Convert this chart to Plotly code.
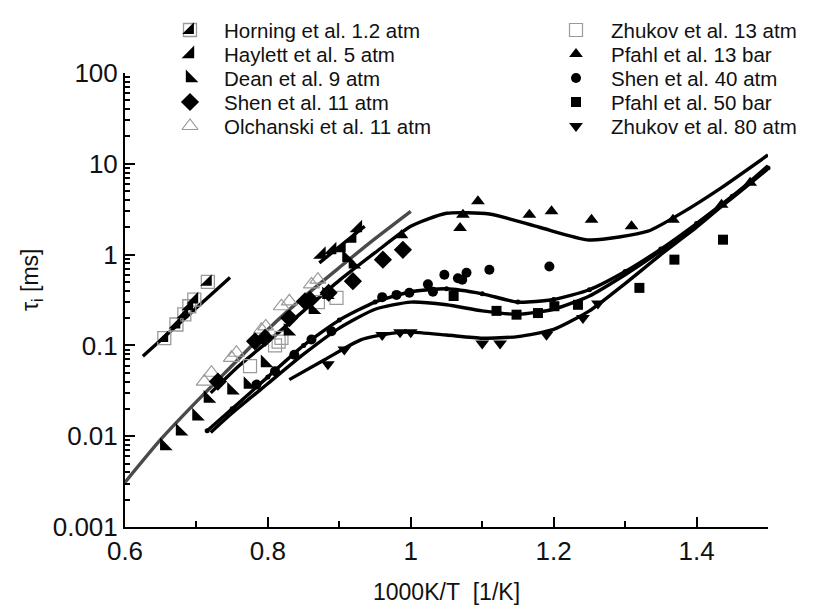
import plotly.graph_objects as go

W, H = 814, 606
PX0, PX1, PY0, PY1 = 117, 760, 65, 519   # plot area (pixels)

# ---------------- data ----------------
horning_x = [0.655, 0.672, 0.683, 0.690, 0.697, 0.716]
horning_y = [0.12, 0.17, 0.22, 0.27, 0.32, 0.50]

haylett_x = [0.875, 0.890, 0.903, 0.918, 0.926]
haylett_y = [1.0, 1.12, 1.18, 1.5, 1.96]

dean_x = [0.655, 0.677, 0.700, 0.716, 0.749, 0.772, 0.796, 0.828, 0.863, 0.882, 0.910, 0.919]
dean_y = [0.0078, 0.0113, 0.0166, 0.026, 0.032, 0.037, 0.064, 0.143, 0.247, 0.36, 0.92, 0.78]

shen11_x = [0.730, 0.782, 0.796, 0.830, 0.852, 0.859, 0.885, 0.919, 0.961, 0.989]
shen11_y = [0.040, 0.111, 0.121, 0.20, 0.306, 0.318, 0.38, 0.51, 0.88, 1.13]

olch_x = [0.711, 0.721, 0.749, 0.756, 0.791, 0.797, 0.819, 0.830, 0.861, 0.870]
olch_y = [0.040, 0.050, 0.073, 0.083, 0.149, 0.162, 0.27, 0.306, 0.47, 0.53]

zh13_x = [0.775, 0.810, 0.819, 0.815, 0.870, 0.896]
zh13_y = [0.059, 0.100, 0.121, 0.110, 0.300, 0.333]

pf13_x = [0.987, 1.069, 1.073, 1.094, 1.166, 1.197, 1.253, 1.309, 1.367, 1.435, 1.475]
pf13_y = [1.63, 1.96, 2.75, 3.87, 2.75, 3.0, 2.42, 2.05, 2.42, 3.55, 6.2]

shen40_x = [0.784, 0.810, 0.837, 0.861, 0.889, 0.960, 0.980, 0.998, 1.024, 1.031, 1.047, 1.066, 1.072, 1.078, 1.110, 1.194]
shen40_y = [0.037, 0.052, 0.079, 0.116, 0.143, 0.34, 0.36, 0.38, 0.47, 0.39, 0.60, 0.55, 0.53, 0.63, 0.68, 0.74]

pf50_x = [1.060, 1.120, 1.148, 1.178, 1.201, 1.234, 1.320, 1.369, 1.437]
pf50_y = [0.35, 0.24, 0.218, 0.227, 0.27, 0.28, 0.43, 0.88, 1.46]

zh80_x = [0.884, 0.907, 0.960, 0.985, 1.000, 1.100, 1.125, 1.190, 1.241, 1.262]
zh80_y = [0.062, 0.090, 0.130, 0.140, 0.140, 0.105, 0.105, 0.131, 0.20, 0.29]

# simulation curves
sim12_x = [0.625, 0.747]
sim12_y = [0.076, 0.56]

simgray_x = [0.60, 0.65, 0.70, 0.75, 0.80, 0.85, 0.90, 0.95, 1.00]
simgray_y = [0.0031, 0.0092, 0.024, 0.060, 0.15, 0.34, 0.72, 1.5, 3.0]

sim5_x = [0.872, 0.9355]
sim5_y = [0.81, 2.05]

sim13_x = [0.72, 0.76, 0.80, 0.85, 0.90, 0.95, 1.00, 1.05, 1.11, 1.18, 1.25, 1.332, 1.38, 1.434, 1.50]
sim13_y = [0.030, 0.060, 0.11, 0.24, 0.52, 1.05, 2.05, 2.85, 2.8, 2.0, 1.45, 1.81, 2.9, 5.4, 12.5]

sim40_x = [0.715, 0.75, 0.80, 0.85, 0.90, 0.95, 1.00, 1.05, 1.10, 1.15, 1.20, 1.25, 1.30, 1.35, 1.40, 1.45, 1.50]
sim40_y = [0.0115, 0.020, 0.045, 0.10, 0.19, 0.30, 0.39, 0.42, 0.37, 0.30, 0.32, 0.41, 0.65, 1.15, 2.2, 4.4, 9.0]

sim50_x = [0.72, 0.75, 0.80, 0.85, 0.90, 0.95, 1.00, 1.05, 1.10, 1.15, 1.20, 1.25, 1.30, 1.35, 1.40, 1.45, 1.50]
sim50_y = [0.011, 0.018, 0.038, 0.080, 0.155, 0.25, 0.30, 0.28, 0.24, 0.22, 0.25, 0.35, 0.60, 1.10, 2.1, 4.2, 8.8]

sim80_x = [0.83, 0.88, 0.93, 0.97, 1.00, 1.05, 1.10, 1.15, 1.20, 1.25, 1.30, 1.35, 1.40, 1.45, 1.50]
sim80_y = [0.042, 0.070, 0.115, 0.135, 0.14, 0.13, 0.12, 0.125, 0.15, 0.24, 0.48, 1.0, 2.0, 4.3, 9.5]

x_tickvals = [0.6, 0.8, 1.0, 1.2, 1.4]
x_ticktext = ["0.6", "0.8", "1", "1.2", "1.4"]
y_tickvals = [0.001, 0.01, 0.1, 1, 10, 100]
y_ticktext = ["0.001", "0.01", "0.1", "1", "10", "100"]

legend_left = ["Horning et al. 1.2 atm", "Haylett et al. 5 atm", "Dean et al. 9 atm",
               "Shen et al. 11 atm", "Olchanski et al. 11 atm"]
legend_right = ["Zhukov et al. 13 atm", "Pfahl et al. 13 bar", "Shen et al. 40 atm",
                "Pfahl et al. 50 bar", "Zhukov et al. 80 atm"]

# ---------------- styles ----------------
BLACK = "#000000"
GRAY_OPEN = "#9a9a9a"
FONT = "Liberation Sans, Arial, sans-serif"

styles = {
    "Horning et al. 1.2 atm": [dict(symbol="square-open", size=13, color=GRAY_OPEN, line=dict(width=1.3, color=GRAY_OPEN)),
                               dict(symbol="triangle-se", size=13, color=BLACK, line=dict(width=0))],
    "Haylett et al. 5 atm": [dict(symbol="triangle-se", size=14, color=BLACK, line=dict(width=0))],
    "Dean et al. 9 atm": [dict(symbol="triangle-sw", size=14, color=BLACK, line=dict(width=0))],
    "Shen et al. 11 atm": [dict(symbol="diamond", size=14, color=BLACK, line=dict(width=0))],
    "Olchanski et al. 11 atm": [dict(symbol="triangle-up-open", size=14, color=GRAY_OPEN, line=dict(width=1.2, color=GRAY_OPEN))],
    "Zhukov et al. 13 atm": [dict(symbol="square-open", size=13, color=GRAY_OPEN, line=dict(width=1.2, color=GRAY_OPEN))],
    "Pfahl et al. 13 bar": [dict(symbol="triangle-up", size=12, color=BLACK, line=dict(width=0))],
    "Shen et al. 40 atm": [dict(symbol="circle", size=10, color=BLACK, line=dict(width=0))],
    "Pfahl et al. 50 bar": [dict(symbol="square", size=10, color=BLACK, line=dict(width=0))],
    "Zhukov et al. 80 atm": [dict(symbol="triangle-down", size=12, color=BLACK, line=dict(width=0))],
}

fig = go.Figure()

# simulation lines
def add_line(xs, ys, color=BLACK, width=3.4, markers=False):
    fig.add_trace(go.Scatter(
        x=xs, y=ys, mode="lines+markers" if markers else "lines",
        line=dict(color=color, width=width, shape="spline", smoothing=0.6),
        marker=dict(size=5, color=color),
        showlegend=False, hoverinfo="skip", cliponaxis=False))

add_line(simgray_x, simgray_y, color="#4a4a4a", width=3.4)
add_line(sim12_x, sim12_y)
add_line(sim5_x, sim5_y)
add_line(sim13_x, sim13_y)
add_line(sim40_x, sim40_y, markers=True)
add_line(sim50_x, sim50_y)
add_line(sim80_x, sim80_y)

# experimental data
data = [
    ("Olchanski et al. 11 atm", olch_x, olch_y),
    ("Zhukov et al. 13 atm", zh13_x, zh13_y),
    ("Horning et al. 1.2 atm", horning_x, horning_y),
    ("Haylett et al. 5 atm", haylett_x, haylett_y),
    ("Dean et al. 9 atm", dean_x, dean_y),
    ("Shen et al. 11 atm", shen11_x, shen11_y),
    ("Pfahl et al. 13 bar", pf13_x, pf13_y),
    ("Shen et al. 40 atm", shen40_x, shen40_y),
    ("Pfahl et al. 50 bar", pf50_x, pf50_y),
    ("Zhukov et al. 80 atm", zh80_x, zh80_y),
]
for name, xs, ys in data:
    for mk in styles[name]:
        fig.add_trace(go.Scatter(x=xs, y=ys, mode="markers", marker=mk,
                                 showlegend=False, hoverinfo="skip", cliponaxis=False))

# custom legend drawn on a pixel-coordinate overlay axis
ROW0, ROWSTEP = 22, 24
annotations = []
for col, names, mx, tx in [(0, legend_left, 182, 214), (1, legend_right, 568, 601)]:
    for i, name in enumerate(names):
        yy = ROW0 + i * ROWSTEP
        for mk in styles[name]:
            fig.add_trace(go.Scatter(x=[mx], y=[yy], xaxis="x2", yaxis="y2", mode="markers",
                                     marker=mk, showlegend=False, hoverinfo="skip", cliponaxis=False))
        annotations.append(dict(x=tx, y=yy, xref="x2", yref="y2", text=name, showarrow=False,
                                xanchor="left", yanchor="middle",
                                font=dict(family=FONT, size=20.5, color="#111")))

# axis titles
annotations.append(dict(x=438, y=584, xref="x2", yref="y2", text="1000K/T&nbsp; [1/K]",
                        showarrow=False, xanchor="center", yanchor="middle",
                        font=dict(family=FONT, size=23, color="#111")))
annotations.append(dict(x=23, y=272, xref="x2", yref="y2", text="τ<sub>i</sub> [ms]",
                        showarrow=False, xanchor="center", yanchor="middle", textangle=-90,
                        font=dict(family=FONT, size=23, color="#111")))

minor_y = [m * 10 ** e for e in range(-3, 2) for m in range(2, 10)]

fig.update_layout(
    width=W, height=H, margin=dict(l=0, r=0, t=0, b=0),
    paper_bgcolor="white", plot_bgcolor="rgba(0,0,0,0)",
    showlegend=False,
    font=dict(family=FONT, color="#111"),
    xaxis=dict(domain=[PX0 / W, PX1 / W], range=[0.6, 1.5], showgrid=False, zeroline=False,
               showline=True, linecolor=BLACK, linewidth=2, ticks="inside", ticklen=10,
               tickwidth=2, tickcolor=BLACK, tickvals=x_tickvals, ticktext=x_ticktext,
               tickfont=dict(family=FONT, size=26, color="#111"), automargin=False,
               minor=dict(ticks="inside", dtick=0.1, tick0=0.6, ticklen=6, tickwidth=2, tickcolor=BLACK)),
    yaxis=dict(domain=[1 - PY1 / H, 1 - PY0 / H], type="log", range=[-3, 2], showgrid=False,
               zeroline=False, showline=True, linecolor=BLACK, linewidth=2, ticks="inside",
               ticklen=10, tickwidth=2, tickcolor=BLACK, tickvals=y_tickvals, ticktext=y_ticktext,
               tickfont=dict(family=FONT, size=26, color="#111"), automargin=False,
               minor=dict(ticks="inside", tickvals=minor_y, ticklen=5, tickwidth=1.5, tickcolor=BLACK)),
    xaxis2=dict(domain=[0, 1], range=[0, W], visible=False, fixedrange=True),
    yaxis2=dict(domain=[0, 1], range=[H, 0], visible=False, fixedrange=True, anchor="x2"),
    annotations=annotations,
)

fig.write_html("out.html")
